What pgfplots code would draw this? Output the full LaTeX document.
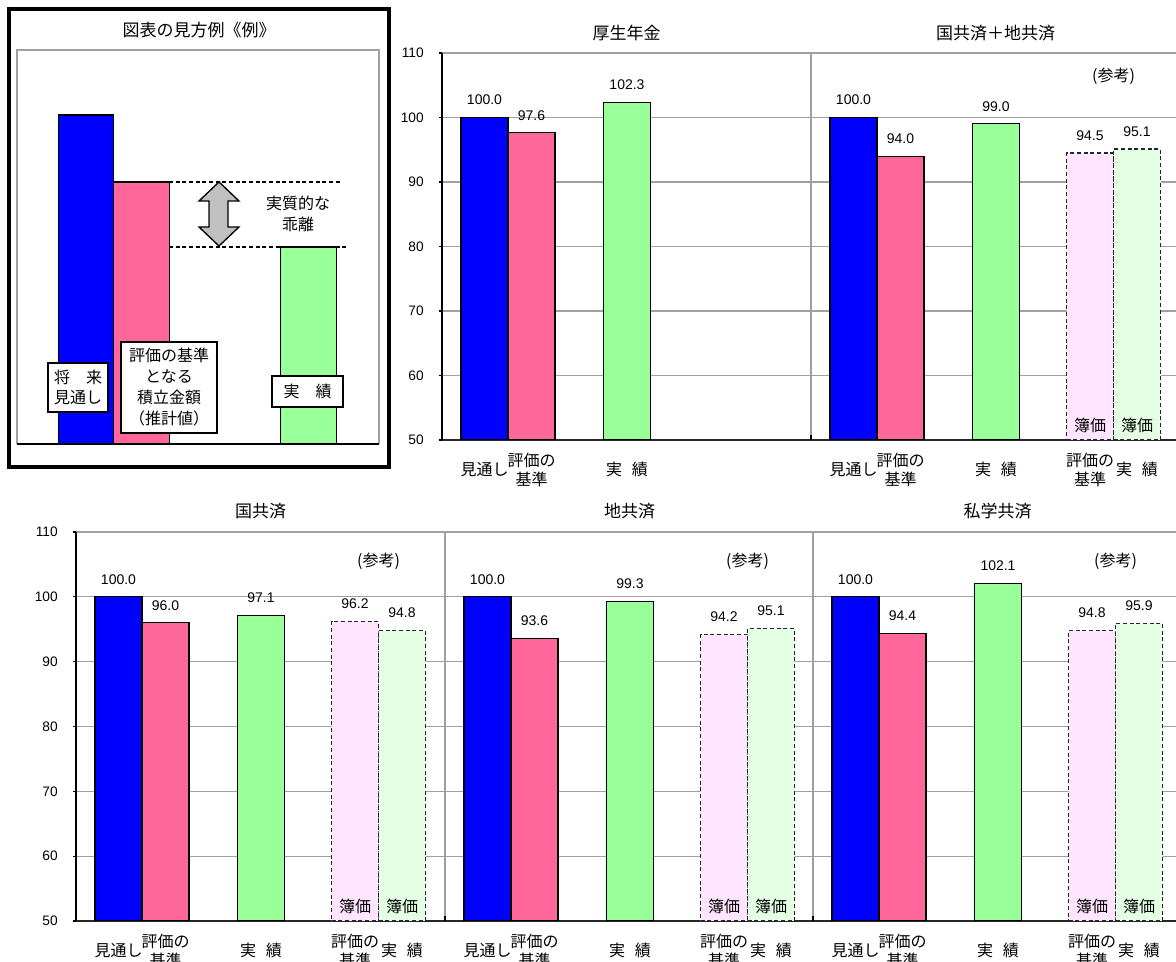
\documentclass[border=0pt]{standalone}
\usepackage{pgfplots}
\pgfplotsset{compat=1.18}
\usepackage{fontspec}
\setmainfont{Noto Sans CJK JP}
\newfontfamily\numfont{Liberation Sans}
\definecolor{cblue}{HTML}{0000FF}
\definecolor{cpink}{HTML}{FF6699}
\definecolor{cgreen}{HTML}{99FF99}
\definecolor{lpink}{HTML}{FFE5FF}
\definecolor{lgreen}{HTML}{E5FFE5}
\definecolor{gridc}{HTML}{A0A0A0}
\definecolor{arrc}{HTML}{C0C0C0}
\newcommand\catfont{\fontsize{12}{14.25}\selectfont}
\newcommand\tfont{\fontsize{12.75}{15}\selectfont}
\newcommand\jj{実\hspace{0.6em}績}
\pgfplotsset{
  panel/.style={
    scale only axis, ybar, clip mode=individual,
    ymin=50, ymax=110, ytick={50,60,70,80,90,100,110},
    axis x line*=bottom, axis y line*=left,
    x axis line style={-, black!85, line width=1.3pt},
    y axis line style={-, black, line width=0.8pt},
    ymajorgrids, grid style={gridc, line width=0.8pt},
    xtick style={draw=none}, ytick style={black, line width=0.8pt},
    tick align=outside, major tick length=2.5pt,
    yticklabel style={font=\numfont\fontsize{10.3}{12}\selectfont, inner sep=0pt, xshift=-11pt},
    /pgf/number format/assume math mode=true,
    xticklabel style={font=\catfont, align=center, anchor=center, yshift=-19.9pt},
    bar width=47,
    nodes near coords={\pgfmathprintnumber[fixed,fixed zerofill,precision=1]{\pgfplotspointmeta}},
    every node near coord/.append style={font=\numfont\fontsize{10.5}{12}\selectfont, inner sep=0pt, yshift=9pt, text=black},
  },
  solidbar/.style={draw=black, line width=0.8pt, bar shift=0pt},
  dashbar/.style={draw=black!85, line width=0.9pt, dash pattern=on 3pt off 2pt, bar shift=0pt},
}
\begin{document}
\begin{tikzpicture}[x=0.75pt,y=0.75pt]
\useasboundingbox (0,0) rectangle (1176,962);
\clip (0,0) rectangle (1176,962);

% ---------------- example panel ----------------
\draw[line width=3pt] (9,495) rectangle (389,953);
\node[font=\fontsize{12.75}{15}\selectfont] at (199,932) {図表の見方例《例》};
\begin{axis}[at={(12.75pt,388.5pt)}, anchor=south west, scale only axis,
  width=271.5pt, height=295.5pt, xmin=0, xmax=362, ymin=0, ymax=394,
  hide axis, ybar, bar width=55.5, clip=false]
\draw[gridc, line width=1pt] (axis cs:0,0) -- (axis cs:0,394) -- (axis cs:362,394) -- (axis cs:362,0);
\addplot[fill=cblue, draw=black, line width=1.1pt, bar shift=0pt] coordinates {(69,329)};
\addplot[fill=cpink, draw=black, line width=1.1pt, bar shift=0pt] coordinates {(124.5,262)};
\addplot[fill=cgreen, draw=black, line width=1.1pt, bar shift=0pt] coordinates {(291.5,197)};
\draw[black, line width=1.5pt] (axis cs:0,0) -- (axis cs:362,0);
\draw[line width=1pt, dash pattern=on 3pt off 2pt] (axis cs:152,262) -- (axis cs:323,262);
\draw[line width=1pt, dash pattern=on 3pt off 2pt] (axis cs:152,197) -- (axis cs:330,197);
\draw[fill=arrc, draw=black, line width=1pt] (axis cs:202,262) -- (axis cs:222,243) -- (axis cs:211,243) -- (axis cs:211,217) -- (axis cs:222,217) -- (axis cs:202,198) -- (axis cs:182,217) -- (axis cs:192,217) -- (axis cs:192,243) -- (axis cs:182,243) -- cycle;
\end{axis}
\node[font=\fontsize{12}{15.75}\selectfont, align=center] at (298,748.5) {実質的な\\乖離};
\node[draw=black, fill=white, line width=1.1pt, inner sep=0pt, minimum width=45pt, minimum height=36.75pt, align=center, font=\fontsize{12}{15}\selectfont] at (78,574.5) {将　来\\見通し};
\node[draw=black, fill=white, line width=1.1pt, inner sep=0pt, minimum width=72pt, minimum height=68.25pt, align=center, font=\fontsize{12}{15.75}\selectfont] at (169,574.5) {評価の基準\\となる\\積立金額\\（推計値）};
\node[draw=black, fill=white, line width=1.1pt, inner sep=0pt, minimum width=53.25pt, minimum height=23.25pt, align=center, font=\fontsize{12}{15}\selectfont] at (307.5,570.5) {実　績};

% ---------------- top row ----------------
\begin{axis}[panel, at={(331.5pt,391.5pt)}, anchor=south west,
  width=554.25pt, height=290.25pt, xmin=0, xmax=739,
  xtick={42.5,89.5,185,411.5,458.5,554,648,695},
  xticklabels={見通し,{評価の\\基準},\jj,見通し,{評価の\\基準},\jj,{評価の\\基準},\jj}]
\addplot[solidbar, fill=cblue] coordinates {(42.5,100.0) (411.5,100.0)};
\addplot[solidbar, fill=cpink] coordinates {(89.5,97.6) (458.5,94.0)};
\addplot[solidbar, fill=cgreen] coordinates {(185,102.3) (554,99.0)};
\addplot[dashbar, fill=lpink] coordinates {(648,94.5)};
\addplot[dashbar, fill=lgreen] coordinates {(695,95.1)};
\draw[gridc, line width=0.8pt] (axis cs:369,50) -- (axis cs:369,110);
\draw[black, line width=0.8pt] (axis cs:369,50) -- (axis cs:369,50.8);
\node[font=\tfont] at (axis cs:184.5,113.1) {厚生年金};
\node[font=\tfont] at (axis cs:553.5,113.1) {国共済＋地共済};
\node[font=\catfont] at (axis cs:671.5,106.4) {(参考)};
\node[font=\catfont] at (axis cs:648,52.2) {簿価};
\node[font=\catfont] at (axis cs:695,52.2) {簿価};
\end{axis}

% ---------------- bottom row ----------------
\begin{axis}[panel, at={(57pt,30.75pt)}, anchor=south west,
  width=828.75pt, height=291.75pt, xmin=0, xmax=1105,
  xtick={42.5,89.5,185,279,326,411.5,458.5,554,648,695,779.5,826.5,922,1016,1063},
  xticklabels={見通し,{評価の\\基準},\jj,{評価の\\基準},\jj,見通し,{評価の\\基準},\jj,{評価の\\基準},\jj,見通し,{評価の\\基準},\jj,{評価の\\基準},\jj}]
\addplot[solidbar, fill=cblue] coordinates {(42.5,100.0) (411.5,100.0) (779.5,100.0)};
\addplot[solidbar, fill=cpink] coordinates {(89.5,96.0) (458.5,93.6) (826.5,94.4)};
\addplot[solidbar, fill=cgreen] coordinates {(185,97.1) (554,99.3) (922,102.1)};
\addplot[dashbar, fill=lpink] coordinates {(279,96.2) (648,94.2) (1016,94.8)};
\addplot[dashbar, fill=lgreen] coordinates {(326,94.8) (695,95.1) (1063,95.9)};
\draw[gridc, line width=0.8pt] (axis cs:369,50) -- (axis cs:369,110);
\draw[gridc, line width=0.8pt] (axis cs:737,50) -- (axis cs:737,110);
\draw[black, line width=0.8pt] (axis cs:369,50) -- (axis cs:369,50.8);
\draw[black, line width=0.8pt] (axis cs:737,50) -- (axis cs:737,50.8);
\node[font=\tfont] at (axis cs:184.5,113.24) {国共済};
\node[font=\tfont] at (axis cs:553.5,113.24) {地共済};
\node[font=\tfont] at (axis cs:921.5,113.24) {私学共済};
\node[font=\catfont] at (axis cs:302.5,105.4) {(参考)};
\node[font=\catfont] at (axis cs:671.5,105.4) {(参考)};
\node[font=\catfont] at (axis cs:1039.5,105.4) {(参考)};
\node[font=\catfont] at (axis cs:279,52.2) {簿価};
\node[font=\catfont] at (axis cs:326,52.2) {簿価};
\node[font=\catfont] at (axis cs:648,52.2) {簿価};
\node[font=\catfont] at (axis cs:695,52.2) {簿価};
\node[font=\catfont] at (axis cs:1016,52.2) {簿価};
\node[font=\catfont] at (axis cs:1063,52.2) {簿価};
\end{axis}
\end{tikzpicture}
\end{document}
